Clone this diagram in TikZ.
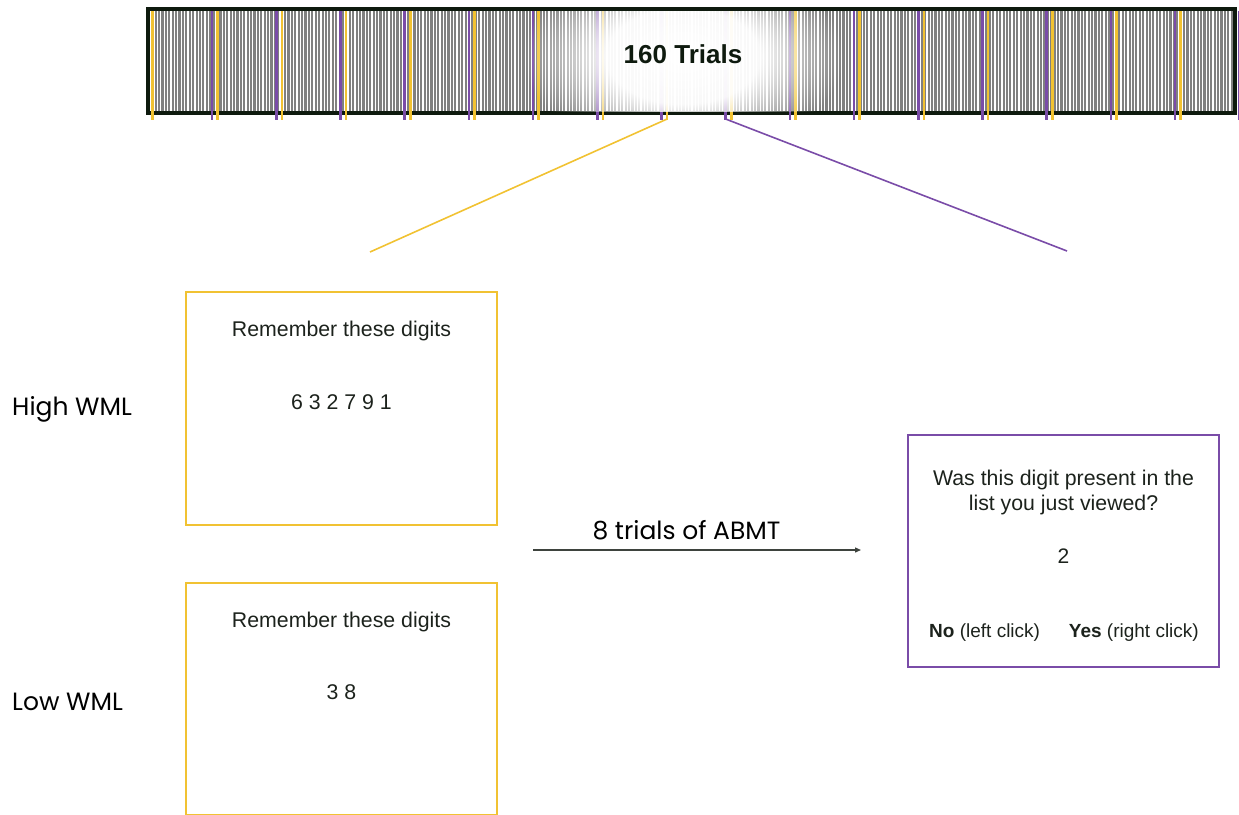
\documentclass[tikz,border=0pt]{standalone}
\usepackage{fontspec}
\setmainfont{Liberation Sans}
\newfontfamily\geo{Poppins}
\usetikzlibrary{fadings,arrows.meta}
\definecolor{yel}{HTML}{F1C232}
\definecolor{pur}{HTML}{7A4CA8}
\definecolor{barDark}{HTML}{0E1A0E}
\definecolor{stripeGray}{HTML}{808080}
\definecolor{txt}{HTML}{1C221C}
\pgfdeclareradialshading{glowshade}{\pgfpointorigin}{color(0bp)=(white); color(12bp)=(white!95!black); color(25bp)=(black); color(50bp)=(black)}
\pgfdeclarefading{glowfade}{\pgfuseshading{glowshade}}
\tikzset{
  ybox/.style={draw=yel, line width=2.5pt, minimum width=311pt, minimum height=233pt, inner sep=0pt},
  pbox/.style={draw=pur, line width=2.5pt, minimum width=311pt, minimum height=232pt, inner sep=0pt},
  boxtxt/.style={anchor=base, text=txt, font=\fontsize{21.3}{25}\selectfont, inner sep=0pt},
  clicktxt/.style={anchor=base, text=txt, font=\fontsize{19}{23}\selectfont, inner sep=0pt},
  sidetxt/.style={anchor=base west, text=black, font=\geo\fontsize{25}{29}\selectfont, inner sep=0pt},
  yline/.style={draw=yel, line width=2.6pt},
  pline/.style={draw=pur, line width=2.6pt},
}
\begin{document}
\begin{tikzpicture}[x=1pt,y=-1pt]
\useasboundingbox (0,0) rectangle (1239,814);
% trial bar
\fill[barDark] (146,7) rectangle (1237,115);
\fill[stripeGray] (150,11) rectangle (1233,111);
\foreach \i in {0,...,317} {
  \fill[white] ({150+\i*3.405},11) rectangle ++(1.25,100);
}
\draw[yline] (152.7,11) -- (152.7,120);
\foreach \k in {0,...,16} {
  \draw[pline] ({212+64.2*\k},11) -- ({212+64.2*\k},120);
}
\foreach \k in {0,...,15} {
  \draw[yline] ({217.7+64.2*\k},11) -- ({217.7+64.2*\k},120);
}
\begin{scope}
  \clip (150,11) rectangle (1233,111);
  \fill[white, path fading=glowfade] (683,56) ellipse [x radius=160, y radius=100];
\end{scope}
\node[anchor=base, text=barDark, font=\bfseries\fontsize{26}{30}\selectfont, inner sep=0pt] (trials) at (683,63.5) {160 Trials};
% connectors from bar
\coordinate (ytop) at (667.1,119);
\coordinate (yend) at (370,252);
\coordinate (ptop) at (725.6,119);
\coordinate (pend) at (1067,251);
\draw[draw=yel, line width=1.6pt] (ytop) -- (yend);
\draw[draw=pur, line width=1.6pt] (ptop) -- (pend);
% boxes
\node[ybox] (high) at (341.5,408.5) {};
\node[ybox, minimum height=232pt] (low) at (341.5,699) {};
\node[pbox] (probe) at (1063.5,551) {};
% box texts
\node[boxtxt] (h1) at (341.5,336.5) {Remember these digits};
\node[boxtxt] (h2) at (341.5,409.3) {6 3 2 7 9 1};
\node[boxtxt] (l1) at (341.5,627.5) {Remember these digits};
\node[boxtxt] (l2) at (341.5,699.5) {3 8};
\node[boxtxt] (q1) at (1063.5,485) {Was this digit present in the};
\node[boxtxt] (q1b) at (1063.5,510.7) {list you just viewed?};
\node[boxtxt, font=\fontsize{21}{26}\selectfont] (q2) at (1063.5,563.3) {2};
\node[clicktxt, anchor=base west] (no) at (929,637.3) {\textbf{No} (left click)};
\node[clicktxt, anchor=base east] (yes) at (1199,637.3) {\textbf{Yes} (right click)};
% side labels
\node[sidetxt] (hwml) at (12,415.7) {High WML};
\node[sidetxt] (lwml) at (12,710.7) {Low WML};
% arrow
\coordinate (arrS) at (533,550);
\coordinate (arrE) at (861,550);
\draw[draw=txt!85, line width=1.3pt, -{Triangle[length=6pt,width=5pt]}] (arrS) -- (arrE);
\node[anchor=base, text=black, font=\geo\fontsize{25}{29}\selectfont, inner sep=0pt] (abmt) at (686.5,539.3) {8 trials of ABMT};
\end{tikzpicture}
\end{document}
